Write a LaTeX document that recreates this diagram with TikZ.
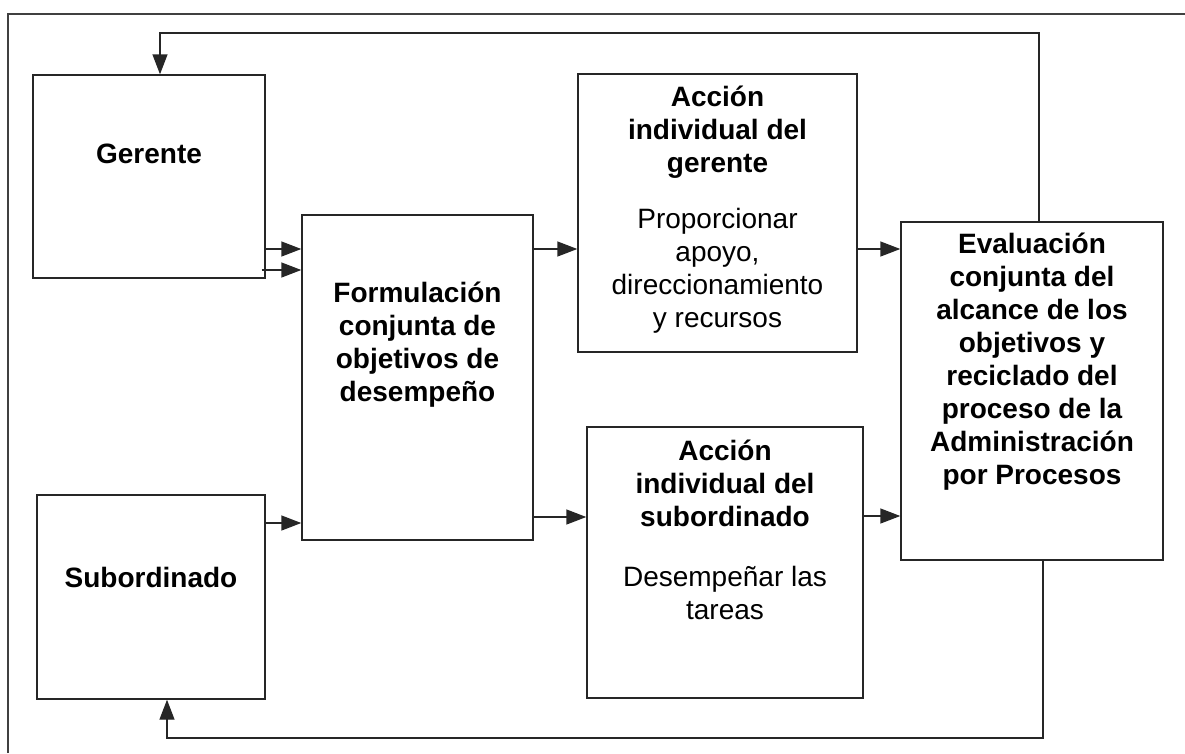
\documentclass[tikz,border=0pt]{standalone}
\usepackage{fontspec}
\setmainfont{Liberation Sans}
\usepackage{tikz}
\usetikzlibrary{positioning,arrows.meta}
\tikzset{c-box/.style={rectangle, draw=black!85, line width=1.4pt, fill=white, inner sep=0pt},
c-head/.style={inner sep=0pt, align=center, font=\fontsize{28}{33}\selectfont\bfseries},
c-body/.style={inner sep=0pt, align=center, font=\fontsize{28}{33}\selectfont},
arrow/.style={line width=1.4pt, draw=black!85, -{Triangle[length=20pt,width=15pt]}}}

\begin{document}
\begin{tikzpicture}[x=1pt, y=-1pt]
\useasboundingbox (0,0) rectangle (1185,753);
\draw[line width=1.4pt, black!75] (8,753) -- (8,14) -- (1185,14);
\node (ger) [c-box, minimum width=232pt, minimum height=203pt] at (149,176.5) {};
\node (sub) [c-box, minimum width=228pt, minimum height=204pt] at (151,597) {};
\node (form) [c-box, minimum width=231pt, minimum height=325pt] at (417.5,377.5) {};
\node (accg) [c-box, minimum width=279pt, minimum height=278pt] at (717.5,213) {};
\node (accs) [c-box, minimum width=276pt, minimum height=271pt] at (725,562.5) {};
\node (eval) [c-box, minimum width=262pt, minimum height=338pt] at (1032,391) {};
\node (gerT) [c-head] at ([yshift=-80pt]ger.north) {Gerente};
\node (subT) [c-head] at ([yshift=-83pt]sub.north) {Subordinado};
\node (formT) [c-head] at ([yshift=-130.5pt]form.north) {
Formulación\\ conjunta de\\ objetivos de\\ desempeño
};
\node (accgT) [c-head] at ([yshift=-59pt]accg.north) {
Acción\\ individual del\\ gerente
};
\node (accgB) [c-body] at ([yshift=-197pt]accg.north) {
Proporcionar\\ apoyo,\\ direccionamiento\\ y recursos
};
\node (accsT) [c-head] at ([yshift=-57pt]accs.north) {
Acción\\ individual del\\ subordinado
};
\node (accsB) [c-body] at ([yshift=-167pt]accs.north) {
Desempeñar las\\ tareas
};
\node (evalT) [c-head] at ([yshift=-140pt]eval.north) {
Evaluación\\ conjunta del\\ alcance de los\\ objetivos y\\ reciclado del\\ proceso de la\\ Administración\\ por Procesos
};
\coordinate (fbTop) at (160,33);
\coordinate (fbBot) at (167,738);
\draw [arrow] ([yshift=-72.5pt]ger.east) -- ([yshift=-72.5pt]ger.east -| form.west);
\draw [arrow] ([xshift=-4pt,yshift=-93.5pt]ger.east) -- ([yshift=-93.5pt]ger.east -| form.west);
\draw [arrow] ([yshift=74pt]sub.east) -- ([yshift=74pt]sub.east -| form.west);
\draw [arrow] ([yshift=128.5pt]form.east) -- ([yshift=128.5pt]form.east -| accg.west);
\draw [arrow] ([yshift=-139.5pt]form.east) -- ([yshift=-139.5pt]form.east -| accs.west);
\draw [arrow] ([yshift=-36pt]accg.east) -- ([yshift=-36pt]accg.east -| eval.west);
\draw [arrow] ([yshift=46.5pt]accs.east) -- ([yshift=46.5pt]accs.east -| eval.west);
\draw [arrow] ([xshift=7pt]eval.north) |- (fbTop) -- ([xshift=11pt]ger.north);
\draw [arrow] ([xshift=11pt]eval.south) |- (fbBot) -- (sub.south -| fbBot);
\end{tikzpicture}
\end{document}
